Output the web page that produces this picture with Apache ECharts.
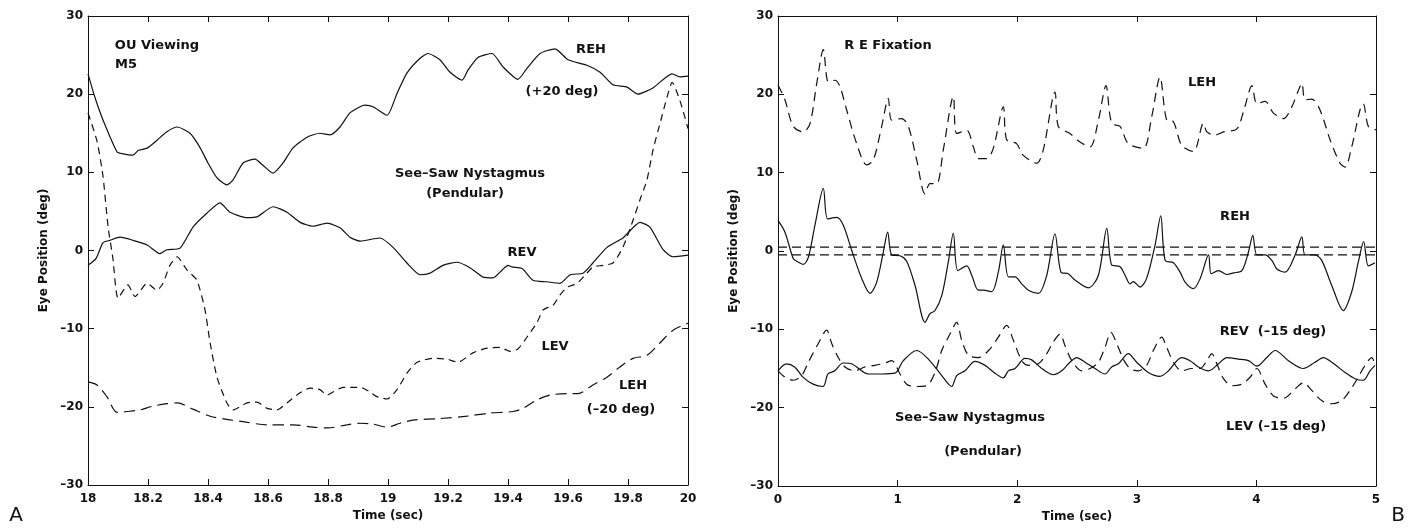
<!DOCTYPE html>
<html>
<head>
<meta charset="utf-8">
<script src="https://cdn.jsdelivr.net/npm/echarts@6/dist/echarts.min.js"></script>
<style>html,body{margin:0;background:#fff}#main{width:1416px;height:529px}</style>
</head>
<body>
<div id="main"></div>
<script>
// Panel A: OU viewing, 18-20 s
let rehAT = [18,18.023,18.05,18.097,18.113,18.15,18.167,18.197,18.23,18.263,18.297,18.34,18.373,18.4,18.43,18.463,18.483,18.517,18.557,18.583,18.617,18.65,18.683,18.73,18.773,18.807,18.84,18.873,18.907,18.923,18.95,18.997,19.03,19.063,19.107,19.133,19.173,19.207,19.247,19.267,19.3,19.347,19.383,19.433,19.463,19.507,19.557,19.6,19.663,19.707,19.75,19.797,19.833,19.883,19.947,19.973,20]
let rehAY = [22.6,19.6,16.7,12.6,12.4,12.2,12.8,13.1,14.1,15.2,15.8,15.0,13.2,11.2,9.3,8.4,9.0,11.2,11.7,10.9,9.9,11.2,13.1,14.5,15.0,14.8,15.8,17.6,18.4,18.6,18.4,17.3,20.1,22.7,24.6,25.2,24.4,22.8,21.8,23.1,24.7,25.2,23.5,21.9,23.3,25.2,25.8,24.4,23.7,22.8,21.2,20.9,20.0,20.8,22.6,22.2,22.3]

let revAT = [18,18.027,18.05,18.073,18.107,18.15,18.197,18.24,18.263,18.307,18.35,18.397,18.44,18.473,18.53,18.563,18.617,18.663,18.707,18.75,18.797,18.84,18.873,18.907,18.973,19.017,19.063,19.107,19.14,19.183,19.23,19.273,19.317,19.35,19.383,19.4,19.413,19.447,19.483,19.53,19.573,19.607,19.65,19.683,19.73,19.783,19.84,19.873,19.917,19.95,20]
let revAY = [-1.9,-1.0,1.0,1.3,1.7,1.3,0.7,-0.4,0.1,0.3,3.0,4.8,6.1,4.9,4.2,4.3,5.6,4.9,3.6,3.1,3.5,2.9,1.7,1.2,1.6,0.4,-1.6,-3.1,-2.9,-1.9,-1.5,-2.2,-3.4,-3.5,-2.4,-1.9,-2.1,-2.3,-3.8,-4.0,-4.2,-3.1,-2.9,-1.6,0.4,1.6,3.6,3.0,0.1,-0.8,-0.6]

let levAT = [18,18.03,18.05,18.067,18.083,18.1,18.133,18.157,18.197,18.23,18.25,18.273,18.297,18.33,18.363,18.39,18.407,18.43,18.463,18.483,18.53,18.563,18.597,18.63,18.663,18.707,18.74,18.773,18.797,18.817,18.85,18.883,18.907,18.94,18.963,18.997,19.03,19.063,19.097,19.15,19.197,19.233,19.283,19.33,19.373,19.407,19.433,19.463,19.497,19.517,19.55,19.573,19.597,19.63,19.663,19.683,19.717,19.75,19.783,19.817,19.84,19.863,19.883,19.907,19.93,19.947,19.973,20]
let levAY = [17.6,14.0,9.5,3.0,-1.0,-6.1,-4.4,-5.9,-4.2,-5.1,-4.2,-1.9,-0.8,-2.5,-3.8,-7.6,-11.8,-16.2,-19.5,-20.4,-19.5,-19.4,-20.2,-20.4,-19.5,-18.2,-17.6,-17.8,-18.5,-18.1,-17.5,-17.5,-17.5,-18.1,-18.7,-19.0,-17.8,-15.7,-14.3,-13.8,-13.9,-14.3,-13.1,-12.5,-12.4,-12.9,-12.6,-11.1,-9.2,-7.6,-7.0,-5.7,-4.7,-4.2,-2.9,-2.1,-1.9,-1.6,0.4,3.9,6.5,9.0,12.8,16.3,19.6,21.5,19.2,15.6]

let lehAT = [18,18.03,18.063,18.097,18.13,18.173,18.217,18.263,18.297,18.35,18.407,18.463,18.517,18.597,18.683,18.75,18.8,18.863,18.907,18.95,18.997,19.04,19.083,19.173,19.263,19.34,19.417,19.45,19.497,19.54,19.597,19.633,19.683,19.73,19.773,19.817,19.863,19.907,19.95,20]
let lehAY = [-16.8,-17.2,-18.7,-20.7,-20.6,-20.4,-19.9,-19.6,-19.5,-20.3,-21.2,-21.6,-21.9,-22.3,-22.3,-22.6,-22.7,-22.3,-22.1,-22.2,-22.6,-22.1,-21.7,-21.5,-21.2,-20.8,-20.6,-20.2,-19.1,-18.5,-18.3,-18.3,-17.2,-16.2,-14.9,-13.8,-13.4,-11.8,-10.2,-9.3]

// Panel B: RE fixation, 0-5 s
let rehBT = [0,0.058,0.128,0.156,0.212,0.254,0.309,0.379,0.415,0.491,0.546,0.616,0.7,0.769,0.825,0.881,0.917,0.951,1.02,1.076,1.146,1.229,1.271,1.313,1.369,1.424,1.466,1.503,1.578,1.62,1.675,1.717,1.787,1.842,1.884,1.926,1.982,2.038,2.093,2.177,2.247,2.316,2.366,2.427,2.483,2.595,2.679,2.749,2.79,2.86,2.902,2.943,2.97,3.027,3.082,3.152,3.2,3.237,3.306,3.362,3.405,3.474,3.53,3.6,3.622,3.683,3.753,3.809,3.879,3.934,3.97,4.004,4.073,4.129,4.171,4.24,4.324,4.38,4.407,4.49,4.546,4.63,4.727,4.797,4.852,4.897,4.936,4.992]
let rehBY = [3.9,2.4,-1.0,-1.3,-1.7,-0.8,3.3,8.0,4.1,4.3,3.3,0.1,-3.5,-5.4,-4.0,-0.1,2.4,-0.5,-0.6,-1.3,-4.4,-9.1,-8.0,-7.6,-5.7,-1.4,2.3,-2.5,-1.9,-3.1,-5.0,-5.0,-5.2,-2.7,0.8,-3.3,-3.3,-4.2,-5.0,-5.4,-3.1,2.2,-2.7,-2.9,-3.7,-4.7,-3.1,2.9,-1.8,-2.0,-3.1,-4.2,-3.9,-4.6,-3.5,0.7,4.5,-1.2,-1.5,-2.7,-4.0,-4.8,-3.5,-0.5,-2.9,-2.5,-3.0,-2.8,-2.5,-0.1,2.0,-0.5,-0.5,-1.2,-2.3,-2.7,-0.5,1.8,-0.5,-0.5,-1.2,-4.4,-7.6,-5.2,-1.4,1.2,-1.9,-1.5]

let lehBT = [0,0.058,0.128,0.212,0.268,0.324,0.379,0.421,0.477,0.518,0.574,0.658,0.741,0.797,0.867,0.922,0.951,1.034,1.09,1.16,1.229,1.271,1.327,1.382,1.466,1.494,1.578,1.633,1.675,1.745,1.8,1.884,1.912,1.995,2.051,2.163,2.218,2.316,2.344,2.441,2.525,2.609,2.679,2.742,2.79,2.86,2.929,3.055,3.124,3.194,3.25,3.306,3.375,3.474,3.557,3.586,3.655,3.725,3.837,3.892,3.963,4.004,4.073,4.143,4.227,4.296,4.351,4.38,4.407,4.463,4.532,4.616,4.699,4.741,4.797,4.866,4.894,4.936,5]
let lehBY = [21.2,19.3,15.9,15.2,16.3,21.4,25.7,21.6,21.8,21.0,18.0,13.7,11.0,11.6,15.9,19.5,16.7,16.9,15.9,11.6,7.3,8.6,8.6,12.9,19.7,15.0,15.4,13.3,11.8,11.8,13.1,18.4,14.2,13.7,12.2,11.2,12.9,20.3,15.9,15.0,13.9,13.3,16.7,21.1,16.3,15.9,13.7,13.1,17.1,22.2,16.7,16.5,13.5,12.7,16.3,15.2,14.8,15.2,15.6,17.8,21.1,18.8,19.1,17.6,16.9,18.4,20.5,21.4,19.3,19.4,18.0,14.2,11.2,10.7,13.3,18.0,18.8,15.9,15.5]

let revBT = [0,0.07,0.139,0.209,0.293,0.376,0.418,0.474,0.544,0.614,0.755,0.867,0.978,1.048,1.16,1.257,1.369,1.452,1.494,1.564,1.647,1.731,1.814,1.884,1.926,1.982,2.065,2.121,2.205,2.302,2.372,2.441,2.497,2.567,2.651,2.734,2.79,2.846,2.929,2.999,3.096,3.194,3.264,3.375,3.445,3.515,3.6,3.683,3.753,3.85,3.934,4.004,4.087,4.157,4.268,4.393,4.49,4.56,4.63,4.741,4.824,4.894,4.95,4.992]
let revBY = [-15.3,-14.4,-14.8,-16.1,-17.0,-17.3,-15.7,-15.3,-14.3,-14.4,-15.7,-15.7,-15.6,-14.0,-12.7,-13.8,-15.9,-17.3,-15.9,-15.3,-14.1,-14.6,-15.6,-16.2,-15.3,-15.0,-13.7,-13.9,-15.0,-15.8,-15.3,-14.2,-13.6,-14.2,-15.0,-15.7,-14.8,-14.4,-13.1,-14.2,-15.5,-16.0,-15.3,-13.6,-14.0,-14.8,-15.3,-14.4,-13.6,-13.8,-14.0,-14.7,-13.6,-12.7,-14.0,-15.0,-14.2,-13.6,-14.2,-15.5,-16.3,-16.5,-15.3,-14.6]

let levBT = [0,0.058,0.128,0.198,0.254,0.337,0.407,0.449,0.504,0.56,0.644,0.727,0.811,0.895,0.951,1.02,1.076,1.146,1.243,1.313,1.369,1.438,1.494,1.536,1.592,1.675,1.773,1.842,1.912,1.968,2.038,2.093,2.177,2.247,2.302,2.358,2.4,2.456,2.539,2.609,2.679,2.734,2.784,2.832,2.887,2.943,3.012,3.082,3.138,3.208,3.25,3.306,3.375,3.459,3.53,3.586,3.627,3.669,3.725,3.795,3.879,3.948,4.004,4.073,4.143,4.227,4.324,4.393,4.463,4.546,4.63,4.713,4.783,4.852,4.908,4.964,4.992]
let levBY = [-15.3,-16.1,-16.5,-15.9,-14.2,-11.8,-10.1,-11.8,-13.6,-14.8,-15.3,-14.8,-14.6,-14.3,-14.0,-15.7,-17.0,-17.3,-17.2,-15.5,-12.7,-10.6,-9.1,-11.4,-13.3,-13.6,-12.5,-11.0,-9.5,-11.4,-14.0,-14.6,-14.4,-13.1,-11.6,-10.6,-12.1,-14.0,-15.3,-15.0,-14.2,-12.3,-10.4,-11.8,-13.8,-15.0,-15.3,-14.6,-12.7,-11.0,-12.3,-14.2,-15.3,-15.0,-15.0,-14.0,-13.1,-14.4,-16.3,-17.2,-17.0,-16.1,-15.0,-17.0,-18.5,-18.8,-17.6,-16.8,-17.8,-19.1,-19.5,-19.1,-17.8,-16.1,-14.6,-13.6,-14.6]

// dashed reference levels in panel B
let refLevels = [0.5, -0.5]

let myChart = echarts.init(document.getElementById('main'))

const ink = '#111'
const fnt = '"DejaVu Sans", sans-serif'

function pairs(ts, ys) {
  return ts.map((t, i) => [t, ys[i]])
}

function trace(ts, ys, grid, dash, smooth) {
  return {
    type: 'line',
    xAxisIndex: grid * 2,
    yAxisIndex: grid * 2,
    data: pairs(ts, ys),
    showSymbol: false,
    smooth: smooth,
    silent: true,
    animation: false,
    lineStyle: { color: ink, width: 1.2, type: dash }
  }
}

function xAx(grid, min, max, step, top) {
  return {
    type: 'value', gridIndex: grid, min: min, max: max, interval: step,
    position: top ? 'top' : 'bottom',
    name: top ? '' : 'Time (sec)',
    nameLocation: 'middle', nameGap: 24,
    nameTextStyle: { color: ink, fontFamily: fnt, fontWeight: 'bold', fontSize: 12 },
    axisLine: { show: true, onZero: false, lineStyle: { color: ink, width: 1 } },
    axisTick: { show: true, inside: true, length: 6, lineStyle: { color: ink } },
    axisLabel: { show: !top, color: ink, fontFamily: fnt, fontWeight: 'bold', fontSize: 12, margin: 8, showMinLabel: true, showMaxLabel: true },
    splitLine: { show: false }
  }
}

function yAx(grid, right) {
  return {
    type: 'value', gridIndex: grid, min: -30, max: 30, interval: 10,
    position: right ? 'right' : 'left',
    name: right ? '' : 'Eye Position (deg)',
    nameLocation: 'middle', nameGap: 38, nameRotate: 90,
    nameTextStyle: { color: ink, fontFamily: fnt, fontWeight: 'bold', fontSize: 12 },
    axisLine: { show: true, onZero: false, lineStyle: { color: ink, width: 1 } },
    axisTick: { show: true, inside: true, length: 6, lineStyle: { color: ink } },
    axisLabel: {
      show: !right, color: ink, fontFamily: fnt, fontWeight: 'bold', fontSize: 12, margin: 5,
      formatter: v => String(v).replace('-', '\u2013')
    },
    splitLine: { show: false }
  }
}

function note(x, y, text, size, weight) {
  return {
    type: 'text', x: x, y: y, silent: true,
    style: {
      text: text, fill: ink,
      font: (weight || 'bold') + ' ' + (size || 13) + 'px ' + fnt,
      textAlign: 'center', textVerticalAlign: 'middle'
    }
  }
}

let opt = {
  backgroundColor: '#fff',
  animation: false,
  grid: [
    { left: 88, top: 16, width: 600, height: 469 },
    { left: 778, top: 16, width: 598, height: 470 }
  ],
  xAxis: [
    xAx(0, 18, 20, 0.2, false),
    xAx(0, 18, 20, 0.2, true),
    xAx(1, 0, 5, 1, false),
    xAx(1, 0, 5, 1, true)
  ],
  yAxis: [
    yAx(0, false),
    yAx(0, true),
    yAx(1, false),
    yAx(1, true)
  ],
  series: [
    trace(rehAT, rehAY, 0, 'solid', 0.2),
    trace(revAT, revAY, 0, 'solid', 0.2),
    trace(levAT, levAY, 0, [7, 5], 0.2),
    trace(lehAT, lehAY, 0, [11, 6], 0.3),
    trace(rehBT, rehBY, 1, 'solid', 0.3),
    trace(lehBT, lehBY, 1, [9, 6], 0.3),
    trace(revBT, revBY, 1, 'solid', 0.3),
    trace(levBT, levBY, 1, [9, 6], 0.3),
    trace([0, 5], [refLevels[0], refLevels[0]], 1, [9, 5], false),
    trace([0, 5], [refLevels[1], refLevels[1]], 1, [9, 5], false)
  ],
  graphic: [
    note(157, 46, 'OU Viewing'),
    note(126, 65, 'M5'),
    note(591, 50, 'REH'),
    note(562, 92, '(+20 deg)'),
    note(470, 174, 'See\u2013Saw Nystagmus'),
    note(465, 194, '(Pendular)'),
    note(522, 253, 'REV'),
    note(555, 347, 'LEV'),
    note(633, 386, 'LEH'),
    note(621, 410, '(\u201320 deg)'),
    note(888, 46, 'R E Fixation'),
    note(1202, 83, 'LEH'),
    note(1235, 217, 'REH'),
    note(1273, 332, 'REV  (\u201315 deg)'),
    note(1276, 427, 'LEV (\u201315 deg)'),
    note(970, 418, 'See\u2013Saw Nystagmus'),
    note(983, 452, '(Pendular)'),
    note(16, 516, 'A', 20, 'normal'),
    note(1398, 516, 'B', 20, 'normal')
  ]
}

myChart.setOption(opt)
</script>
</body>
</html>
